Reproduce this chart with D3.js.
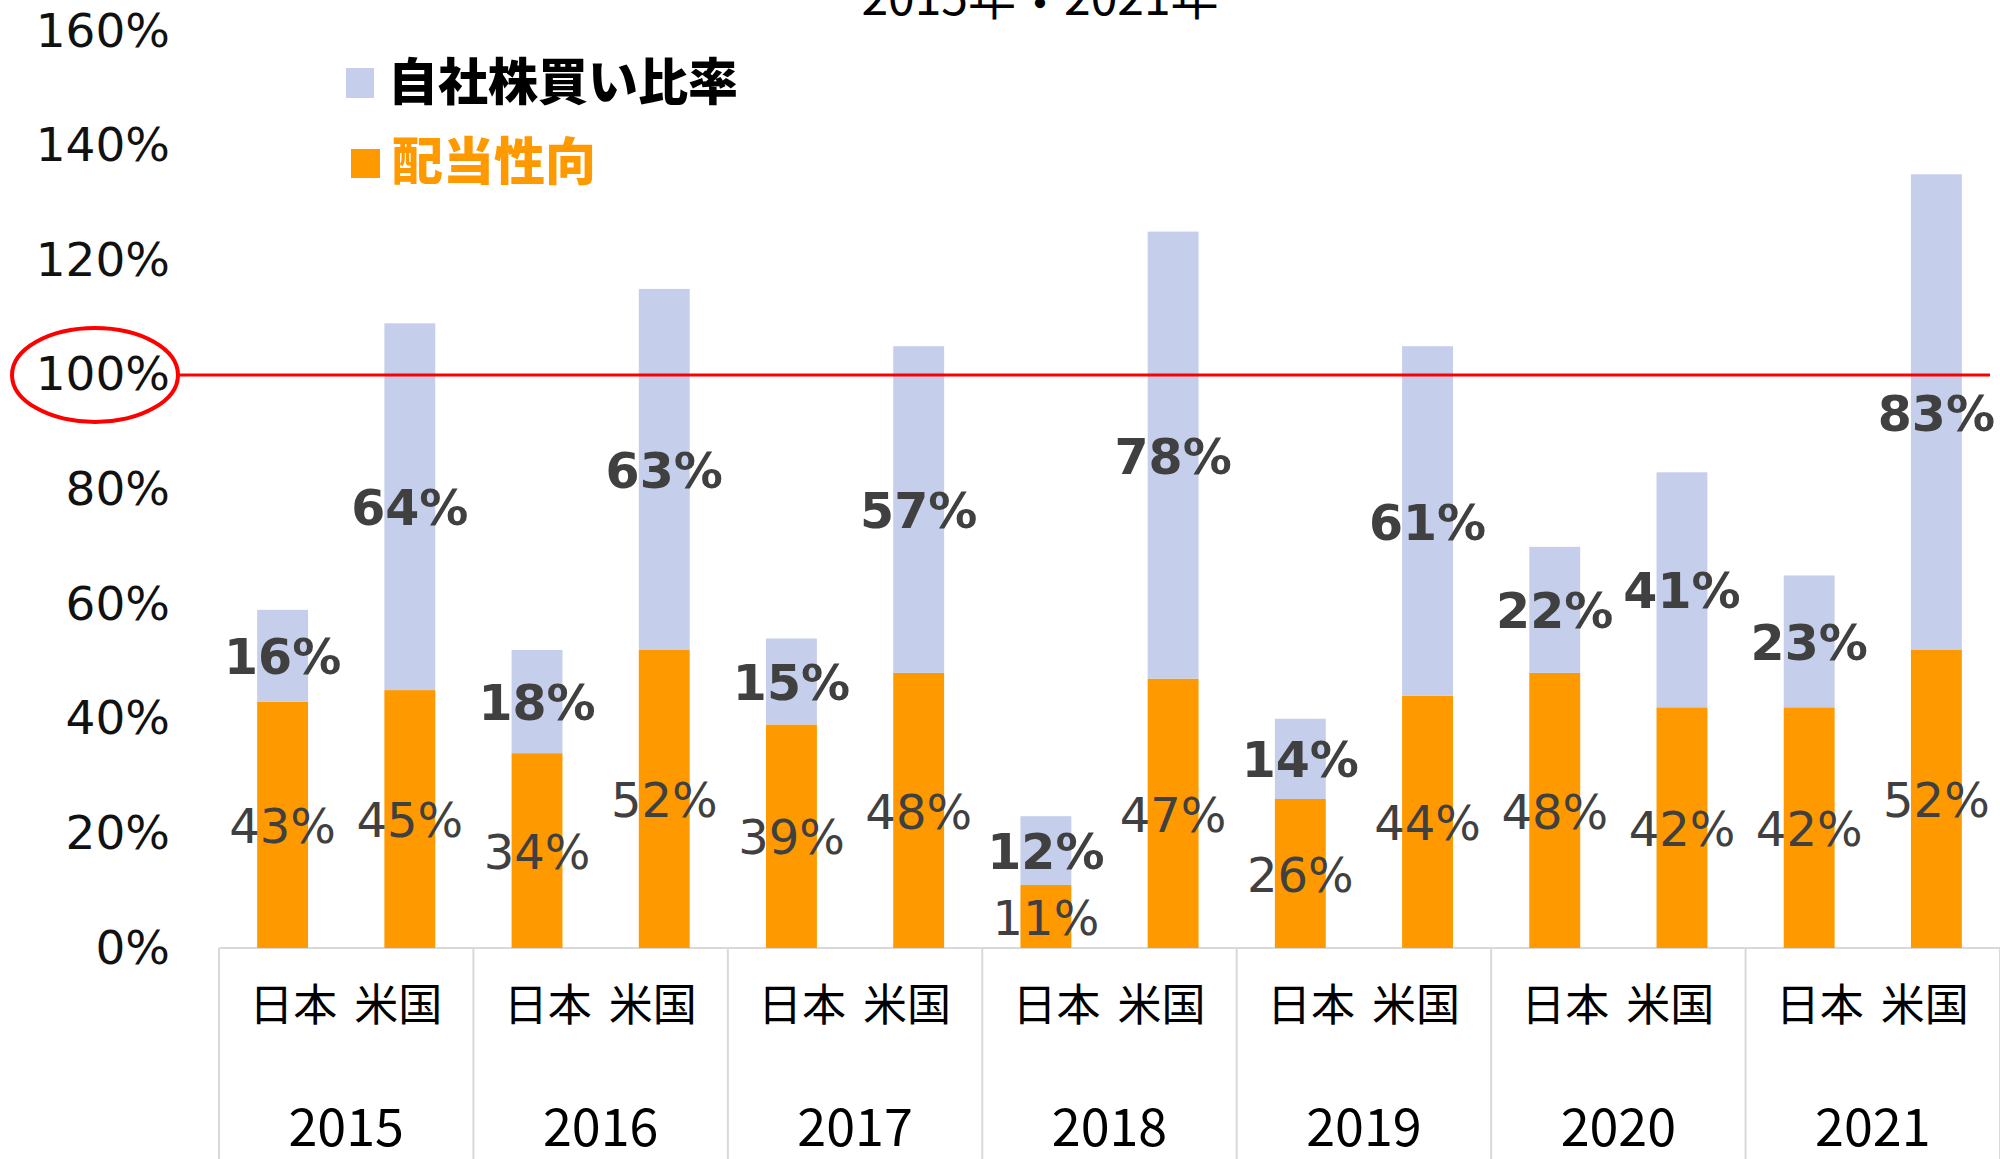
<!DOCTYPE html>
<html>
<head>
<meta charset="utf-8">
<title>配当性向と自社株買い比率</title>
<script src="https://d3js.org/d3.v7.min.js"></script>
<style>
  html, body { margin:0; padding:0; background:#fff; }
  svg { display:block; }
</style>
</head>
<body>
<svg id="chart" width="2000" height="1159"></svg>
<script>
// values in %
var years = ["2015", "2016", "2017", "2018", "2019", "2020", "2021"];
var countries = ["日本", "米国"];
var payoutJP  = [43, 34, 39, 11, 26, 48, 42];   // 配当性向
var payoutUS  = [45, 52, 48, 47, 44, 42, 52];
var buybackJP = [16, 18, 15, 12, 14, 22, 23];   // 自社株買い比率
var buybackUS = [64, 63, 57, 78, 61, 41, 83];
var yTicks = [0, 20, 40, 60, 80, 100, 120, 140, 160];
var titleParts = ["2015年", "・", "2021年"];
var legendNames = ["自社株買い比率", "配当性向"];

var orange = "#FF9900", blue = "#C5CFEC", labelColor = "#404040";

var svg = d3.select("#chart");

// build rows from the arrays
var rows = [];
years.forEach(function(y, i) {
  rows.push({ year: y, country: countries[0], payout: payoutJP[i], buyback: buybackJP[i] });
  rows.push({ year: y, country: countries[1], payout: payoutUS[i], buyback: buybackUS[i] });
});

var x = d3.scaleBand().domain(years).range([219, 2000]);
var xSub = d3.scaleBand().domain(countries).range([0, x.bandwidth()])
    .paddingInner(0.6).paddingOuter(0.3);
var y = d3.scaleLinear().domain([0, 160]).range([948, 31]);

// title (cut off at top like the original)
var title = svg.append("text")
  .attr("x", 1040).attr("y", 15)
  .attr("text-anchor", "middle")
  .style("font-family", "'Noto Sans CJK JP'")
  .style("font-size", "48px")
  .style("fill", "#000");
title.append("tspan").text(titleParts[0]);
title.append("tspan").text(titleParts[1]).attr("dy", 6);
title.append("tspan").text(titleParts[2]).attr("dy", -6);

// y axis labels
var yAxis = d3.axisLeft(y).tickValues(yTicks).tickSize(0).tickPadding(0)
  .tickFormat(function(d) { return d + "%"; });
var yg = svg.append("g").attr("transform", "translate(170,0)").call(yAxis);
yg.select(".domain").remove();
yg.selectAll("text")
  .style("font-family", "'DejaVu Sans'")
  .style("font-size", "47px")
  .style("fill", "#111");

// category axis lines
svg.append("line")
  .attr("x1", x.range()[0]).attr("x2", x.range()[1])
  .attr("y1", y(0)).attr("y2", y(0))
  .style("stroke", "#d9d9d9").style("stroke-width", 2);
svg.selectAll(".sep").data(years.concat(["end"])).enter().append("line")
  .attr("class", "sep")
  .attr("x1", function(d, i) { return x.range()[0] + i * x.step(); })
  .attr("x2", function(d, i) { return x.range()[0] + i * x.step(); })
  .attr("y1", y(0)).attr("y2", 1159)
  .style("stroke", "#d9d9d9").style("stroke-width", 2);

// bars
var g = svg.append("g");
var bar = g.selectAll(".bar").data(rows).enter().append("g")
  .attr("class", "bar")
  .attr("transform", function(d) { return "translate(" + (x(d.year) + xSub(d.country)) + ",0)"; });

bar.append("rect")
  .attr("width", xSub.bandwidth())
  .attr("y", function(d) { return y(d.payout); })
  .attr("height", function(d) { return y(0) - y(d.payout); })
  .style("fill", orange);
bar.append("rect")
  .attr("width", xSub.bandwidth())
  .attr("y", function(d) { return y(d.payout + d.buyback); })
  .attr("height", function(d) { return y(d.payout) - y(d.payout + d.buyback); })
  .style("fill", blue);

// data labels
bar.append("text")
  .text(function(d) { return d.payout + "%"; })
  .attr("x", xSub.bandwidth() / 2)
  .attr("y", function(d) { return y(d.payout / 2); })
  .attr("dy", "0.38em")
  .attr("text-anchor", "middle")
  .style("font-family", "'DejaVu Sans'")
  .style("font-size", "48px")
  .style("fill", labelColor);
bar.append("text")
  .text(function(d) { return d.buyback + "%"; })
  .attr("x", xSub.bandwidth() / 2)
  .attr("y", function(d) { return y(d.payout + d.buyback / 2); })
  .attr("dy", "0.38em")
  .attr("text-anchor", "middle")
  .style("font-family", "'DejaVu Sans'")
  .style("font-weight", "bold")
  .style("font-size", "49px")
  .style("fill", labelColor);

// category labels
var cat = svg.selectAll(".cat").data(years).enter().append("g")
  .attr("class", "cat")
  .attr("transform", function(d) { return "translate(" + (x(d) + x.bandwidth() / 2) + ",0)"; });
cat.append("text").text(countries[0])
  .attr("x", -9).attr("y", 1021).attr("text-anchor", "end")
  .style("font-family", "'Noto Sans CJK JP'").style("font-size", "44px").style("fill", "#000");
cat.append("text").text(countries[1])
  .attr("x", 8).attr("y", 1021).attr("text-anchor", "start")
  .style("font-family", "'Noto Sans CJK JP'").style("font-size", "44px").style("fill", "#000");
cat.append("text").text(function(d) { return d; })
  .attr("x", 0).attr("y", 1146).attr("text-anchor", "middle")
  .style("font-family", "'Noto Sans CJK JP'").style("font-size", "52px").style("fill", "#000");

// legend
svg.append("rect").attr("x", 346).attr("y", 68).attr("width", 28).attr("height", 30).style("fill", blue);
svg.append("text").text(legendNames[0])
  .attr("x", 388).attr("y", 100)
  .style("font-family", "'Noto Sans CJK JP'").style("font-weight", "900")
  .style("font-size", "50px").style("fill", "#000");
svg.append("rect").attr("x", 351).attr("y", 149).attr("width", 29).attr("height", 29).style("fill", orange);
svg.append("text").text(legendNames[1])
  .attr("x", 392).attr("y", 180)
  .style("font-family", "'Noto Sans CJK JP'").style("font-weight", "900")
  .style("font-size", "51px").style("fill", orange);

// 100% marker
svg.append("line")
  .attr("x1", 179).attr("x2", 1990)
  .attr("y1", y(100)).attr("y2", y(100))
  .style("stroke", "#FF0000").style("stroke-width", 3);
svg.append("ellipse")
  .attr("cx", 95).attr("cy", y(100)).attr("rx", 83).attr("ry", 47)
  .style("fill", "none").style("stroke", "#FF0000").style("stroke-width", 4);
</script>
</body>
</html>
